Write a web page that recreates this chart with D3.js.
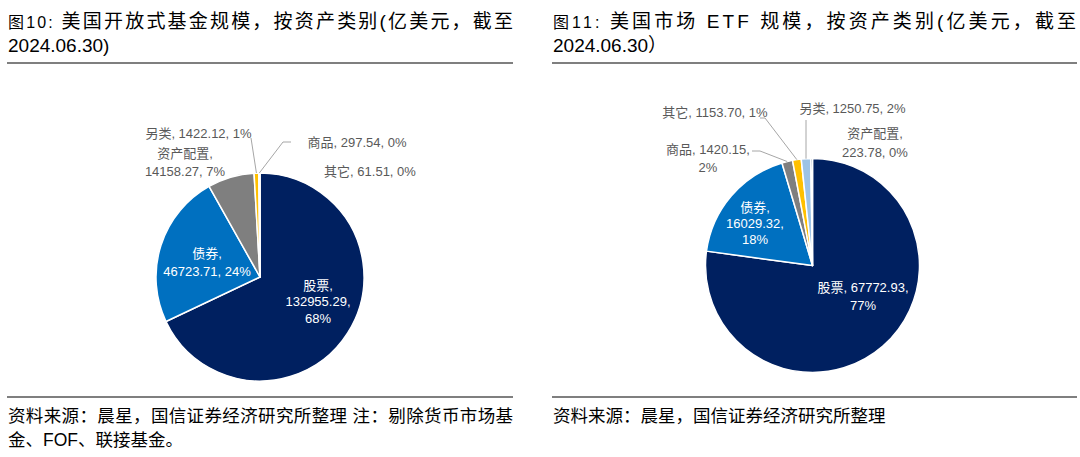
<!DOCTYPE html>
<html><head><meta charset="utf-8">
<script src="https://cdn.jsdelivr.net/npm/d3@7"></script>
<style>
html,body{margin:0;padding:0;background:#fff;}
svg{display:block;font-family:"Liberation Sans","Noto Sans CJK SC",sans-serif;}
</style></head>
<body>
<svg id="c" width="1080" height="457"></svg>
<script>
// ---- data ----
const leftCategories = ["股票","债券","资产配置","另类","商品","其它"];
const leftValues = [132955.29, 46723.71, 14158.27, 1422.12, 297.54, 61.51];
const leftPercents = ["68%","24%","7%","1%","0%","0%"];

const rightCategories = ["股票","债券","商品","其它","另类","资产配置"];
const rightValues = [67772.93, 16029.32, 1420.15, 1153.70, 1250.75, 223.78];
const rightPercents = ["77%","18%","2%","1%","2%","0%"];

const palette = ["#002060","#0070c0","#7f7f7f","#ffc000","#9dc3e6","#264478"];

const leftTitle = ["图10: ", "美国开放式基金规模，按资产类别(亿美元，截至", "2024.06.30)"];
const rightTitle = ["图11: ", "美国市场 ETF 规模，按资产类别(亿美元，截至", "2024.06.30）"];
const leftSource = ["资料来源：晨星，国信证券经济研究所整理 注：剔除货币市场基", "金、FOF、联接基金。"];
const rightSource = ["资料来源：晨星，国信证券经济研究所整理"];

// ---- layout (positions only) ----
const panels = [
  {cats: leftCategories, vals: leftValues, pcts: leftPercents, title: leftTitle, source: leftSource,
   x0: 7, x1: 513, cx: 260, cy: 277, r: 104, titleLen: 505, srcLen: 505,
   labels: {
     "股票": {split:[1,2], x:318, y:285, dy:16.5, inside:true},
     "债券": {split:[1], x:207, y:253, dy:18.5, inside:true},
     "资产配置": {split:[1], x:185, y:153, dy:18},
     "另类": {split:[], x:198.5, y:133, leader:[[251,138]]},
     "商品": {split:[], x:357, y:142, leader:[[291,142],[283,142]]},
     "其它": {split:[], x:370, y:171}
   }},
  {cats: rightCategories, vals: rightValues, pcts: rightPercents, title: rightTitle, source: rightSource,
   x0: 552, x1: 1077, cx: 812.5, cy: 265.5, r: 107, titleLen: 523, srcLen: null,
   labels: {
     "股票": {split:[2], x:863, y:287, dy:18, inside:true},
     "债券": {split:[1,2], x:755, y:207, dy:16, inside:true},
     "商品": {split:[2], x:708, y:149, dy:18, leader:[[752,151],[760,151]]},
     "其它": {split:[], x:715, y:112, leader:[[760,118],[765,118]]},
     "另类": {split:[], x:852.5, y:108, leader:[[806,120]], vertical:true},
     "资产配置": {split:[1], x:875, y:133, dy:19}
   }}
];

const svg = d3.select("#c");

panels.forEach(p => {
  // title
  const t1 = svg.append("text").attr("x", p.x0 + 1).attr("y", 28).attr("fill", "#000")
    .attr("font-size", 19).attr("textLength", p.titleLen).attr("lengthAdjust", "spacing");
  t1.append("tspan").attr("font-size", 16).text(p.title[0]);
  t1.append("tspan").text(p.title[1]);
  svg.append("text").attr("x", p.x0 + 1).attr("y", 52).attr("fill", "#000")
    .attr("font-size", 19).text(p.title[2]);
  // rules
  svg.append("line").attr("x1", p.x0).attr("x2", p.x1).attr("y1", 63).attr("y2", 63)
    .attr("stroke", "#7f7f7f").attr("stroke-width", 2);
  svg.append("line").attr("x1", p.x0).attr("x2", p.x1).attr("y1", 397).attr("y2", 397)
    .attr("stroke", "#7f7f7f").attr("stroke-width", 2);
  // sources
  p.source.forEach((s, i) => {
    const st = svg.append("text").attr("x", p.x0 + 1).attr("y", 422 + i * 24).attr("fill", "#000")
      .attr("font-size", 17.5).text(s);
    if (i === 0 && p.srcLen && p.source.length > 1) st.attr("textLength", p.srcLen).attr("lengthAdjust", "spacing");
  });

  // pie
  const pie = d3.pie().sort(null).value(d => d.v);
  const data = p.cats.map((c, i) => ({c, v: p.vals[i], pct: p.pcts[i], color: palette[i]}));
  const arcs = pie(data);
  const arc = d3.arc().innerRadius(0).outerRadius(p.r);
  const g = svg.append("g").attr("transform", `translate(${p.cx},${p.cy})`);
  g.selectAll("path").data(arcs).join("path")
    .attr("d", arc).attr("fill", d => d.data.color)
    .attr("stroke", "#fff").attr("stroke-width", 1.5).attr("stroke-linejoin", "round");

  // labels
  const fmt = d3.format(".2f");
  arcs.forEach(a => {
    const L = p.labels[a.data.c];
    if (!L) return;
    const parts = [a.data.c + ",", fmt(a.data.v) + ",", a.data.pct];
    // group parts into lines according to split indexes
    const lines = [];
    let cur = [];
    parts.forEach((pt, i) => {
      if (L.split.includes(i)) { lines.push(cur.join(" ")); cur = []; }
      cur.push(pt);
    });
    lines.push(cur.join(" "));
    const txt = svg.append("text").attr("text-anchor", "middle").attr("font-size", 13)
      .attr("fill", L.inside ? "#fff" : "#595959");
    lines.forEach((ln, i) => {
      txt.append("tspan").attr("x", L.x).attr("y", L.y + i * (L.dy || 18))
        .attr("dominant-baseline", "central").text(ln);
    });
    if (L.leader) {
      const mid = (a.startAngle + a.endAngle) / 2;
      let px = p.cx + Math.sin(mid) * p.r;
      let py = p.cy - Math.cos(mid) * p.r;
      const pts = L.leader.map(q => q.slice());
      if (L.vertical) px = pts[0][0];
      pts.push([px, py]);
      svg.append("path").attr("d", d3.line()(pts)).attr("fill", "none")
        .attr("stroke", "#a6a6a6").attr("stroke-width", 1);
    }
  });
});
</script>
</body></html>
